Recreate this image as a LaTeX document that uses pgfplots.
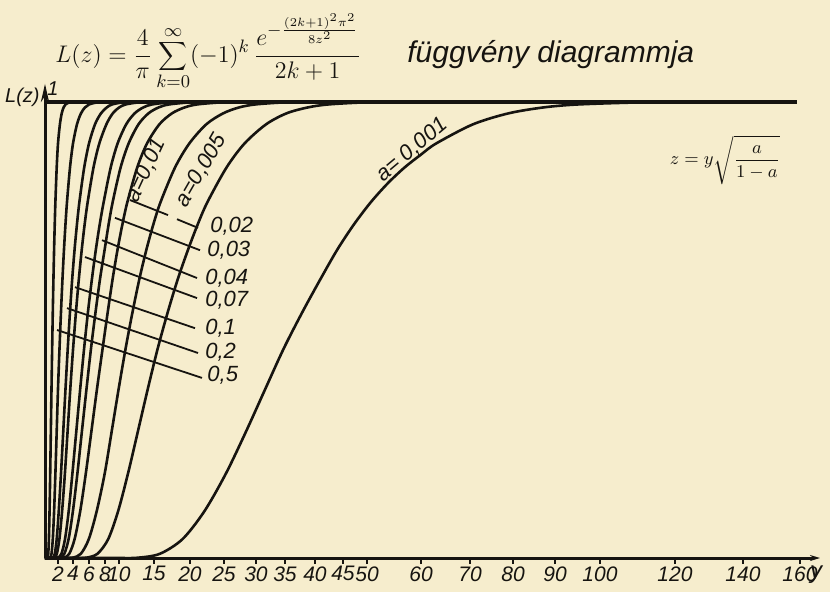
\documentclass[border=0pt]{standalone}
\usepackage{pgfplots}
\pgfplotsset{compat=1.18}
\usepackage{fontspec}
\setmainfont{Liberation Sans}
\usetikzlibrary{arrows.meta,backgrounds}
\definecolor{paper}{RGB}{246,237,205}
\definecolor{ink}{RGB}{22,20,16}
\begin{document}
\begin{tikzpicture}
\begin{axis}[
  x=0.5pt, y=228pt,
  xmin=0, xmax=775, ymin=0, ymax=1.04,
  axis lines=left,
  axis line style={ink, line width=1.5pt},
  x axis line style={-{Stealth[length=5pt,width=3pt]}},
  y axis line style={-{Stealth[length=9pt,width=4pt]}},
  clip=false,
  xtick={13,28,44,60,74,109,145,179,211,240,270,298,322,376,425,468,510,555,630,698,755},
  xticklabels={2,4,6,8,10,15,20,25,30,35,40,45,50,60,70,80,90,100,120,140,160},
  ytick=\empty,
  tick align=outside,
  major tick length=3pt,
  tick style={ink, line width=0.8pt},
  xticklabel style={font=\fontsize{10.5}{12}\selectfont\itshape, inner sep=1pt, text=ink},
  every axis plot/.append style={ink, line width=1.3pt},
]
% invisible frame = page size
\path (axis cs:-45,-0.0746) rectangle (axis cs:785,1.2237);

% asymptote L = 1
\addplot[line width=1.6pt] coordinates {(0,1) (752,1)};

% a = 0.5
\addplot[smooth] coordinates {(0,0)(1.95,0)(2.6,0.0006)(3.25,0.0092)(3.9,0.0414)(4.55,0.1026)(5.2,0.1852)(5.85,0.2777)(6.5,0.3708)(7.15,0.4593)(7.8,0.5402)(8.45,0.6130)(9.1,0.6770)(9.75,0.7327)(10.4,0.7808)(11.7,0.8563)(13,0.9090)(14.9,0.9511)(16.75,0.9752)(18.6,0.9881)(20.5,0.9946)(24.25,0.9991)(28,1)};
% a = 0.2
\addplot[smooth] coordinates {(0,0)(3.9,0)(5.2,0.0006)(6.5,0.0092)(7.8,0.0414)(9.1,0.1026)(10.4,0.1852)(11.7,0.2777)(13,0.3708)(14.5,0.4593)(16,0.5402)(17.5,0.6130)(19,0.6770)(20.5,0.7327)(22,0.7808)(25,0.8563)(28,0.9090)(32,0.9511)(36,0.9752)(40,0.9881)(44,0.9946)(52,0.9991)(60,1)};
% a = 0.1
\addplot[smooth] coordinates {(0,0)(5.85,0)(7.8,0.0006)(9.75,0.0092)(11.7,0.0414)(13.75,0.1026)(16,0.1852)(18.25,0.2777)(20.5,0.3708)(22.75,0.4593)(25,0.5402)(27.25,0.6130)(29.6,0.6770)(32,0.7327)(34.4,0.7808)(39.2,0.8563)(44,0.9090)(50,0.9511)(56,0.9752)(61.75,0.9881)(67,0.9946)(77.5,0.9991)(88,1)};
% a = 0.07
\addplot[smooth] coordinates {(0,0)(7.1,0)(9.48,0.0006)(11.85,0.0092)(14.4,0.0414)(17.1,0.1026)(19.9,0.1852)(22.6,0.2777)(25.3,0.3708)(28.1,0.4593)(31,0.5402)(33.9,0.6130)(36.8,0.6770)(39.7,0.7327)(42.7,0.7808)(48.5,0.8563)(54.3,0.9090)(61.4,0.9511)(67.8,0.9752)(74.2,0.9881)(80.6,0.9946)(93.3,0.9991)(106,1)};
% a = 0.04
\addplot[smooth] coordinates {(0,0)(9.55,0)(12.7,0.0006)(16.4,0.0092)(20,0.0414)(23.7,0.1026)(27.4,0.1852)(31.3,0.2777)(35.2,0.3708)(39.1,0.4593)(43,0.5402)(47,0.6130)(50.9,0.6770)(54.8,0.7327)(58.7,0.7808)(65.7,0.8563)(72.6,0.9090)(81.2,0.9511)(89.7,0.9752)(98.3,0.9881)(106.9,0.9946)(124.5,0.9991)(142,1)};
% a = 0.03
\addplot[smooth] coordinates {(0,0)(11.1,0)(15.1,0.0006)(19.3,0.0092)(23.6,0.0414)(27.9,0.1026)(32.4,0.1852)(36.9,0.2777)(41.5,0.3708)(46,0.4593)(50.6,0.5402)(55.1,0.6130)(59.7,0.6770)(63.7,0.7327)(67.7,0.7808)(75.6,0.8563)(83.6,0.9090)(93.5,0.9511)(103.5,0.9752)(113.6,0.9881)(123.8,0.9946)(144.3,0.9991)(164,1)};
% a = 0.02
\addplot[smooth] coordinates {(0,0)(13.75,0)(19,0.0006)(24.25,0.0092)(29.6,0.0414)(35.2,0.1026)(40.8,0.1852)(46.4,0.2777)(52,0.3708)(57.6,0.4593)(62.8,0.5402)(67.7,0.6130)(72.6,0.6770)(77.5,0.7327)(82.4,0.7808)(92.2,0.8563)(102,0.9090)(114.4,0.9511)(127,0.9752)(139.6,0.9881)(151.8,0.9946)(175.6,0.9991)(198,1)};
% a = 0.01
\addplot[smooth] coordinates {(0,0)(20.4,0)(27.85,0.0006)(35.8,0.0092)(43.8,0.0414)(51.7,0.1026)(59.7,0.1852)(66.7,0.2777)(73.65,0.3708)(80.6,0.4593)(87.6,0.5402)(94.5,0.6130)(101.5,0.6770)(108.5,0.7327)(115.6,0.7808)(130,0.8563)(144.3,0.9090)(161.3,0.9511)(178.2,0.9752)(194.1,0.9881)(210,0.9946)(238.9,0.9991)(269,1)};
% a = 0.005
\addplot[smooth] coordinates {(0,0)(29.9,0)(41.1,0.0006)(52.4,0.0092)(63.2,0.0414)(73.1,0.1026)(83,0.1852)(92.9,0.2777)(102.8,0.3708)(112.7,0.4593)(122.9,0.5402)(133,0.6130)(143.2,0.6770)(152.9,0.7327)(162.5,0.7808)(181.5,0.8563)(199.5,0.9090)(221.1,0.9511)(241.6,0.9752)(262.7,0.9881)(283,0.9946)(319,0.9991)(357,1)};
% a = 0.001
\addplot[smooth] coordinates {(0,0)(70.4,0)(92.5,0.0006)(114.8,0.0092)(137.5,0.0414)(159.4,0.1026)(180.9,0.1852)(201.1,0.2777)(220.3,0.3708)(238.7,0.4593)(257.6,0.5402)(275.8,0.6130)(292.5,0.6770)(309.3,0.7327)(326,0.7808)(342.8,0.8218)(359.5,0.8563)(376.2,0.8851)(391.1,0.9090)(428,0.9511)(463.6,0.9752)(498.4,0.9881)(532.7,0.9946)(594.8,0.9991)(652,1)};

% leader lines
\addplot[line width=0.9pt] coordinates {(85,0.785)(123,0.752)};
\addplot[line width=0.9pt] coordinates {(132,0.743)(153,0.724)};
\addplot[line width=0.9pt] coordinates {(70,0.746)(155,0.675)};
\addplot[line width=0.9pt] coordinates {(57,0.697)(152,0.614)};
\addplot[line width=0.9pt] coordinates {(40,0.660)(152,0.570)};
\addplot[line width=0.9pt] coordinates {(30,0.594)(150,0.504)};
\addplot[line width=0.9pt] coordinates {(22,0.548)(153,0.4496)};
\addplot[line width=0.9pt] coordinates {(12,0.500)(157,0.395)};

% labels
\begin{scope}[every node/.style={text=ink, font=\fontsize{11}{13}\selectfont\itshape, inner sep=1pt}]
\node[anchor=west] at (axis cs:163,0.728) {0,02};
\node[anchor=west] at (axis cs:160,0.675) {0,03};
\node[anchor=west] at (axis cs:158,0.614) {0,04};
\node[anchor=west] at (axis cs:158,0.566) {0,07};
\node[anchor=west] at (axis cs:158,0.504) {0,1};
\node[anchor=west] at (axis cs:158,0.452) {0,2};
\node[anchor=west] at (axis cs:160,0.401) {0,5};
\node[rotate=65] at (axis cs:101,0.85) {a=0,01};
\node[rotate=60] at (axis cs:156,0.85) {a=0,005};
\node[rotate=40] at (axis cs:367,0.895) {a= 0,001};
\node[font=\fontsize{9}{11}\selectfont] at (axis cs:680,0.873) {$\displaystyle z=y\sqrt{\frac{a}{1-a}}$};
\node[anchor=east, font=\fontsize{10}{12}\selectfont\itshape] at (axis cs:-3,1.011) {L(z)};
\node[font=\fontsize{10}{12}\selectfont\itshape] at (axis cs:8,1.03) {1};
\node[font=\fontsize{12}{14}\selectfont\itshape] at (axis cs:771,-0.037) {y};
\node[anchor=west, font=\fontsize{12.5}{15}\selectfont] at (axis cs:8,1.11)
  {$\displaystyle L(z)=\frac{4}{\pi}\sum_{k=0}^{\infty}(-1)^k\,\frac{e^{-\frac{(2k+1)^2\pi^2}{8z^2}}}{2k+1}$};
\node[anchor=west, font=\fontsize{15}{17}\selectfont\itshape] at (axis cs:360,1.103) {függvény diagrammja};
\end{scope}
\end{axis}
\begin{scope}[on background layer]
\fill[paper] (current bounding box.south west) rectangle (current bounding box.north east);
\end{scope}
\end{tikzpicture}
\end{document}
